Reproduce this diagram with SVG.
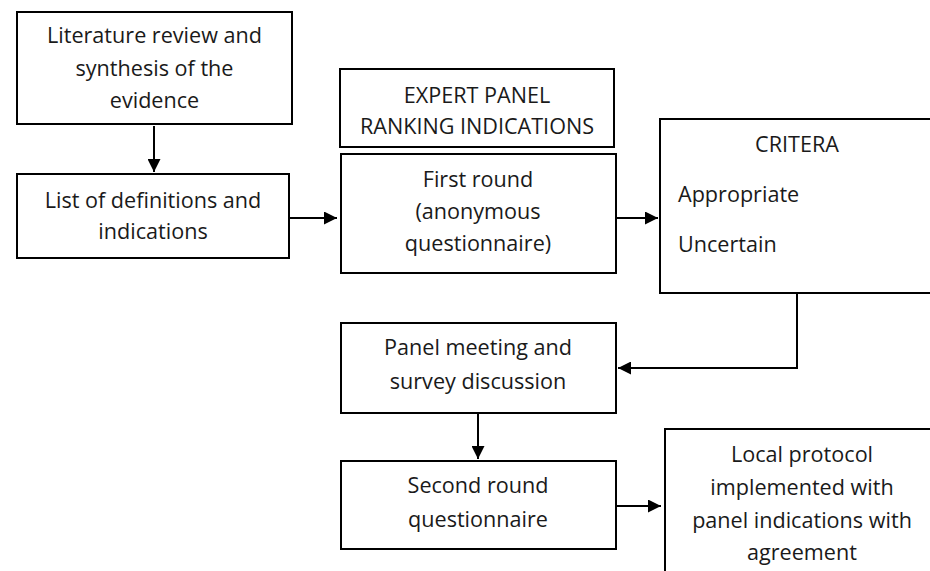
<svg xmlns="http://www.w3.org/2000/svg" width="930" height="571" viewBox="0 0 930 571">
<style>
.box{fill:#fff;stroke:#000;stroke-width:2}
.t{font-family:"Open Sans","Liberation Sans",sans-serif;font-size:21.6px;fill:#1a1a1a;text-anchor:middle}
.l{text-anchor:start}
.c{fill:none;stroke:#000;stroke-width:2}
</style>
<defs>
<marker id="ah" viewBox="0 0 10 10" refX="10" refY="5" markerWidth="6.5" markerHeight="6.5" markerUnits="strokeWidth" orient="auto">
<path d="M0,0 L10,5 L0,10 z" fill="#000"/>
</marker>
</defs>
<rect width="930" height="571" fill="#fff"/>
<g id="connectors">
<line class="c" x1="154" y1="126" x2="154" y2="172" marker-end="url(#ah)"/>
<line class="c" x1="289" y1="218" x2="337" y2="218" marker-end="url(#ah)"/>
<line class="c" x1="616" y1="218" x2="658" y2="218" marker-end="url(#ah)"/>
<polyline class="c" points="797,293 797,368 618,368" marker-end="url(#ah)"/>
<line class="c" x1="478" y1="413" x2="478" y2="459" marker-end="url(#ah)"/>
<line class="c" x1="616" y1="506" x2="661" y2="506" marker-end="url(#ah)"/>
</g>
<g id="literature">
<rect class="box" x="17" y="12" width="275" height="112"/>
<text class="t" x="154.5" y="43">Literature review and</text>
<text class="t" x="154.5" y="76">synthesis of the</text>
<text class="t" x="154.5" y="108">evidence</text>
</g>
<g id="definitions">
<rect class="box" x="17" y="174" width="272" height="84"/>
<text class="t" x="153" y="208">List of definitions and</text>
<text class="t" x="153" y="239">indications</text>
</g>
<g id="expert-panel">
<rect class="box" x="340" y="69" width="274" height="78"/>
<text class="t" x="477" y="103">EXPERT PANEL</text>
<text class="t" x="477" y="134">RANKING INDICATIONS</text>
</g>
<g id="first-round">
<rect class="box" x="341" y="154" width="275" height="119"/>
<text class="t" x="478" y="187">First round</text>
<text class="t" x="478" y="219">(anonymous</text>
<text class="t" x="478" y="251">questionnaire)</text>
</g>
<g id="criteria">
<rect class="box" x="660" y="119" width="276" height="174"/>
<text class="t" x="797" y="152">CRITERA</text>
<text class="t l" x="678" y="202">Appropriate</text>
<text class="t l" x="678" y="252">Uncertain</text>
</g>
<g id="panel-meeting">
<rect class="box" x="341" y="323" width="275" height="90"/>
<text class="t" x="478" y="355">Panel meeting and</text>
<text class="t" x="478" y="389">survey discussion</text>
</g>
<g id="second-round">
<rect class="box" x="341" y="461" width="275" height="88"/>
<text class="t" x="478" y="493">Second round</text>
<text class="t" x="478" y="527">questionnaire</text>
</g>
<g id="local-protocol">
<rect class="box" x="665" y="429" width="276" height="160"/>
<text class="t" x="802" y="462">Local protocol</text>
<text class="t" x="802" y="495">implemented with</text>
<text class="t" x="802" y="528">panel indications with</text>
<text class="t" x="802" y="560">agreement</text>
</g>
</svg>
